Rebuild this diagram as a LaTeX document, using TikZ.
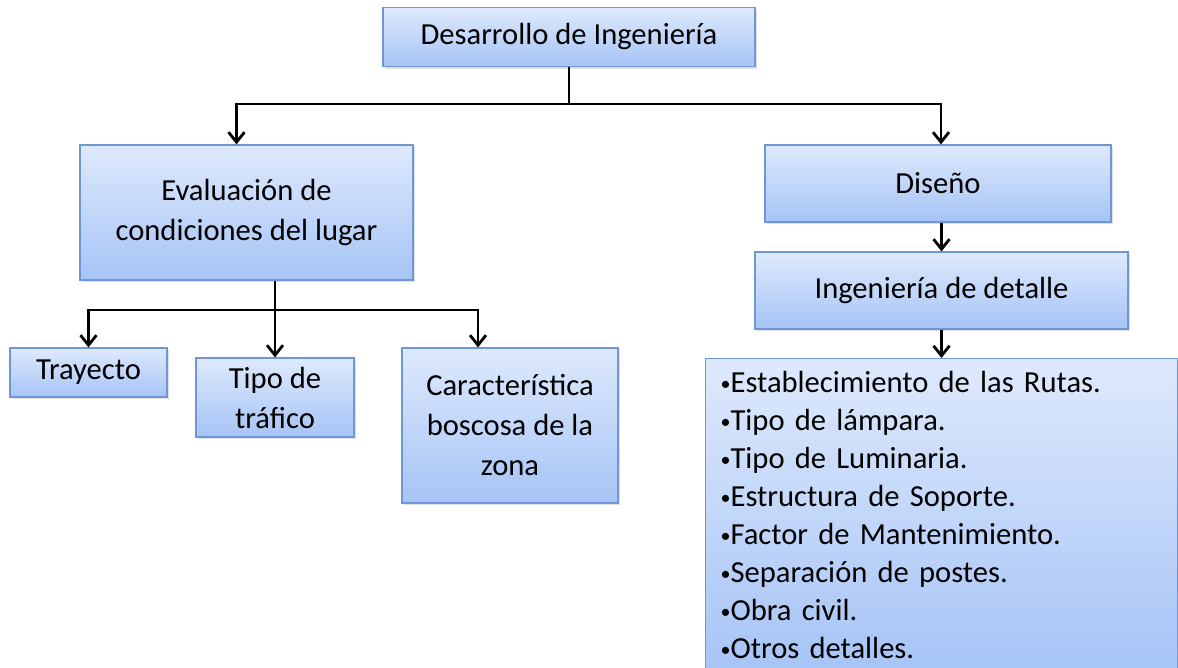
\documentclass[tikz,border=0pt]{standalone}
\usepackage{fontspec}
\setmainfont{Carlito}
\usetikzlibrary{calc,arrows.meta,shadows}

\definecolor{boxtop}{RGB}{222,233,252}
\definecolor{boxbot}{RGB}{166,196,246}
\definecolor{boxline}{RGB}{112,150,212}

\newcommand\bul{\raisebox{1.2pt}{\fontsize{10}{10}\selectfont•}}

\tikzset{
  box/.style={draw=boxline, line width=0.6pt, top color=boxtop, bottom color=boxbot,
    align=center, inner sep=0pt, font=\fontsize{15.3}{20}\selectfont,
    drop shadow={opacity=0.25, shadow xshift=1pt, shadow yshift=-1.2pt}},
  link/.style={line width=1.4pt},
  conn/.style={link, -{Straight Barb[length=5pt,width=8pt]}}
}

\begin{document}
\begin{tikzpicture}[x=0.5pt,y=-0.5pt]
  \useasboundingbox (0,0) rectangle (1178,668);
  \clip (0,0) rectangle (1178,668);

  % boxes
  \node[box, minimum width=186pt, minimum height=29.5pt] (des) at (569,37) {Desarrollo de Ingeniería};
  \node[box, minimum width=166.5pt, minimum height=67.5pt] (eval) at (246.5,212.5) {Evaluación de\\condiciones del lugar};
  \node[box, minimum width=173pt, minimum height=38.5pt] (dis) at (938,183.5) {Diseño};
  \node[box, minimum width=186.5pt, minimum height=38.5pt] (det) at (941.5,290.5) {Ingeniería de detalle};
  \node[box, minimum width=78.5pt, minimum height=24.5pt] (tray) at (88.5,372.5) {Trayecto};
  \node[box, minimum width=79pt, minimum height=39.5pt] (tipo) at (275,397.5) {Tipo de\\tráfico};
  \node[box, minimum width=108pt, minimum height=77.5pt] (car) at (510,425.5) {Característica\\boscosa de la\\zona};
  \node[box, anchor=north west, align=left, text width=221pt, inner xsep=7.5pt, inner ysep=6.5pt,
        font=\fontsize{15.3}{19}\selectfont] (lista) at (705,358)
    {\bul Establecimiento de las Rutas.\\
     \bul Tipo de lámpara.\\
     \bul Tipo de Luminaria.\\
     \bul Estructura de Soporte.\\
     \bul Factor de Mantenimiento.\\
     \bul Separación de postes.\\
     \bul Obra civil.\\
     \bul Otros detalles.};

  % connectors
  \coordinate (j1) at (569,104);
  \coordinate (j2) at (275,310);
  \draw[link] (des.south) -- (j1);
  \draw[conn] (j1) -| ([xshift=-5pt]eval.north);
  \draw[conn] (j1) -| ([xshift=1.5pt]dis.north);
  \draw[conn] (dis.south -| det.north) -- (det.north);
  \draw[conn] (det.south) -- (det.south |- lista.north);
  \draw[link] (eval.south -| j2) -- (j2);
  \draw[conn] (j2) -| (tray.north);
  \draw[conn] (j2) -- (tipo.north);
  \draw[conn] (j2) -| ([xshift=-16pt]car.north);
\end{tikzpicture}
\end{document}
